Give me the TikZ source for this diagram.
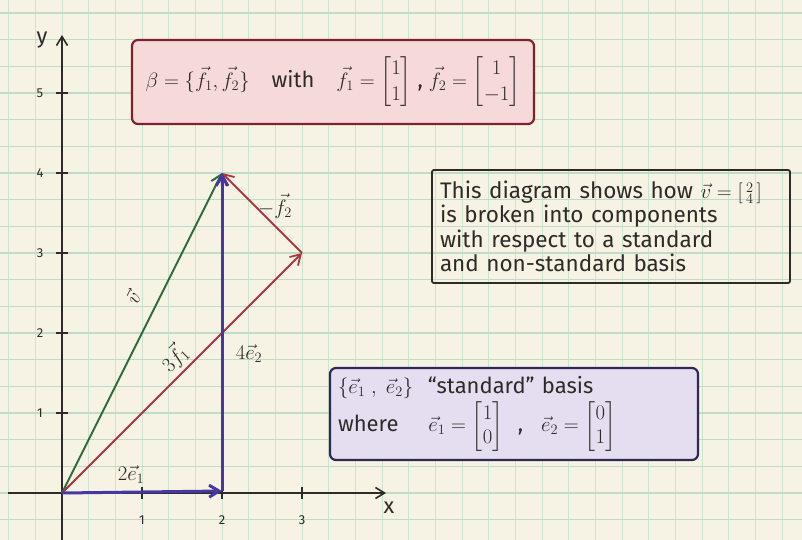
\documentclass[tikz,border=0pt]{standalone}
\usepackage{amsmath}
\usepackage{fontspec}
\setmainfont{Fira Sans}
\usetikzlibrary{arrows.meta}
\definecolor{paper}{RGB}{246,242,228}
\definecolor{gridh}{RGB}{190,220,200}
\definecolor{gridv}{RGB}{205,228,208}
\definecolor{pencil}{RGB}{45,42,40}
\definecolor{vgreen}{RGB}{45,105,55}
\definecolor{vblue}{RGB}{70,55,165}
\definecolor{vred}{RGB}{170,55,65}
\definecolor{redborder}{RGB}{125,35,45}
\definecolor{redfill}{RGB}{246,218,218}
\definecolor{blueborder}{RGB}{45,40,85}
\definecolor{bluefill}{RGB}{228,222,240}
\tikzset{
  axisline/.style={pencil, line width=1.6pt, -{Straight Barb[length=9pt,width=11pt]}},
  tickmark/.style={pencil, line width=1.2pt},
  ticklabel/.style={pencil, font=\fontsize{13}{15}\selectfont, inner sep=1pt},
  bluevec/.style={vblue, line width=3pt, -{Straight Barb[length=10pt,width=12pt]}},
  greenvec/.style={vgreen, line width=2pt, -{Straight Barb[length=10pt,width=12pt]}},
  redvec/.style={vred, line width=1.8pt, -{Straight Barb[length=10pt,width=12pt]}},
  veclabel/.style={pencil, font=\fontsize{20}{22}\selectfont, inner sep=1pt},
  notebox/.style={draw, line width=2.2pt, rounded corners=6pt, inner sep=0pt, text=pencil},
}
\begin{document}
\begin{tikzpicture}[x=1pt,y=-1pt]
\fill[paper] (0,0) rectangle (802,540);
\useasboundingbox (0,0) rectangle (802,540);
% graph paper
\foreach \i in {-2,...,28} \draw[gridv, line width=0.9pt] ({62+26.667*\i},0) -- ({62+26.667*\i},540);
\foreach \j in {-1,...,18} \draw[gridh, line width=1.1pt] (0,{493-26.667*\j}) -- (802,{493-26.667*\j});
% axes
\coordinate (O) at (62,493);
\coordinate (xs) at (8,493);
\coordinate (xe) at (386,493);
\coordinate (ys) at (62,540);
\coordinate (ye) at (62,35);
\draw[axisline] (xs) -- (xe);
\draw[axisline] (ys) -- (ye);
\node[pencil, font=\fontsize{22}{24}\selectfont] (xl) at (389,508) {x};
\node[pencil, font=\fontsize{22}{24}\selectfont] (yl) at (42,40) {y};
\foreach \k in {1,2,3} {
  \coordinate (xt\k) at ({62+80*\k},493);
  \draw[tickmark] ([yshift=-6pt]xt\k) -- ([yshift=6pt]xt\k);
  \node[ticklabel] (xn\k) at ({62+80*\k},520) {\k};
}
\foreach \k in {1,...,5} {
  \coordinate (yt\k) at (62,{493-80*\k});
  \draw[tickmark] ([xshift=-6pt]yt\k) -- ([xshift=6pt]yt\k);
  \node[ticklabel] (yn\k) at (40,{493-80*\k}) {\k};
}
% vectors
\coordinate (A) at (222,491);
\coordinate (B) at (222,173);
\coordinate (C) at (302,253);
\draw[greenvec] (O) -- (B);
\draw[redvec] (O) -- (C);
\draw[redvec] (C) -- (B);
\draw[bluevec] (O) -- (A);
\draw[bluevec] (A) -- (B);
\node[veclabel] (l2e1) at (131,475) {$2\vec{e}_1$};
\node[veclabel] (l4e2) at (249,354) {$4\vec{e}_2$};
\node[veclabel] (lf2) at (275,206) {$-\vec{f}_2$};
\node[veclabel, rotate=63.4] (lv) at (133,297) {$\vec{v}$};
\node[veclabel, rotate=45] (l3f1) at (174,358) {$3\vec{f}_1$};
% boxes
\node[notebox, draw=redborder, fill=redfill, minimum width=402pt, minimum height=84pt,
      font=\fontsize{22}{26}\selectfont] (beta) at (333,82)
  {$\beta=\{\vec{f}_1,\vec{f}_2\}$\quad with\quad $\vec{f}_1=\begin{bmatrix}1\\1\end{bmatrix}$ , $\vec{f}_2=\begin{bmatrix}1\\-1\end{bmatrix}$};
\node[notebox, draw=pencil, rounded corners=2pt, line width=1.8pt, minimum width=358pt, minimum height=113pt,
      text width=342pt, font=\fontsize{22.5}{24.5}\selectfont, align=left] (desc) at (611,226.5)
  {This diagram shows how $\vec{v}=\left[\begin{smallmatrix}2\\4\end{smallmatrix}\right]$\\
   is broken into components\\
   with respect to a standard\\
   and non-standard basis};
\node[notebox, draw=blueborder, fill=bluefill, minimum width=368pt, minimum height=92pt,
      text width=352pt, font=\fontsize{22}{24}\selectfont, align=left] (std) at (514,414)
  {$\{\vec{e}_1\;,\;\vec{e}_2\}$\ \ ``standard'' basis\\[2pt]
   where\hspace{30pt}$\vec{e}_1=\begin{bmatrix}1\\0\end{bmatrix}$\ \ ,\hspace{18pt}$\vec{e}_2=\begin{bmatrix}0\\1\end{bmatrix}$};
\end{tikzpicture}
\end{document}
